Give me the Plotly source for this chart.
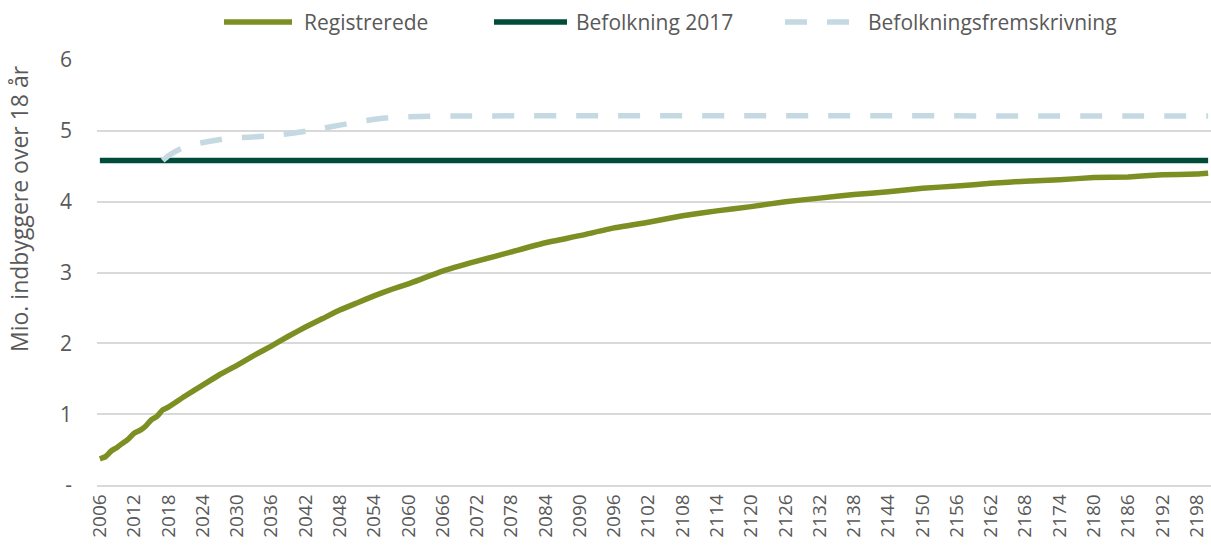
import plotly.graph_objects as go

# Registrerede (mio.)
reg_years = [2006, 2007, 2008, 2009, 2010, 2011, 2012, 2013, 2014, 2015, 2016, 2017, 2018,
             2021, 2024, 2027, 2030, 2033, 2036, 2039, 2042, 2045, 2048, 2051, 2054, 2057,
             2060, 2066, 2072, 2078, 2084, 2090, 2096, 2102, 2108, 2114, 2120, 2126, 2132,
             2138, 2144, 2150, 2156, 2162, 2168, 2174, 2180, 2186, 2192, 2198, 2200]
reg_values = [0.37, 0.40, 0.48, 0.53, 0.59, 0.65, 0.73, 0.77, 0.83, 0.92, 0.97, 1.06, 1.10,
              1.26, 1.41, 1.56, 1.69, 1.83, 1.96, 2.10, 2.23, 2.35, 2.47, 2.57, 2.67, 2.76,
              2.84, 3.02, 3.16, 3.29, 3.42, 3.52, 3.63, 3.71, 3.80, 3.87, 3.93, 4.00, 4.05,
              4.10, 4.14, 4.19, 4.22, 4.26, 4.29, 4.31, 4.34, 4.35, 4.38, 4.39, 4.40]

# Befolkning 2017 (constant)
bef_years = [2006, 2200]
bef_values = [4.58, 4.58]

# Befolkningsfremskrivning
proj_years = [2017, 2018, 2020, 2022, 2025, 2028, 2032, 2036, 2040, 2044, 2048, 2052, 2056,
              2060, 2070, 2200]
proj_values = [4.58, 4.65, 4.74, 4.80, 4.85, 4.89, 4.91, 4.93, 4.97, 5.02, 5.08, 5.14, 5.18,
               5.20, 5.21, 5.21]

series_names = ["Registrerede", "Befolkning 2017", "Befolkningsfremskrivning"]
series_colors = ["#7B8F22", "#004B3A", "#C5D9E2"]

x_ticks = list(range(2006, 2199, 6))
y_ticks = [0, 1, 2, 3, 4, 5, 6]
y_ticktext = ["-", "1", "2", "3", "4", "5", "6"]
y_title = "Mio. indbyggere over 18 år"

FONT = "Open Sans"
GRAY = "#595959"
DASH = "22px,20px"
LW = 5.5

fig = go.Figure()
fig.add_trace(go.Scatter(x=reg_years, y=reg_values, mode="lines", name=series_names[0],
                         line=dict(color=series_colors[0], width=LW, shape="spline", smoothing=0.4)))
fig.add_trace(go.Scatter(x=bef_years, y=bef_values, mode="lines", name=series_names[1],
                         line=dict(color=series_colors[1], width=LW)))
fig.add_trace(go.Scatter(x=proj_years, y=proj_values, mode="lines", name=series_names[2],
                         line=dict(color=series_colors[2], width=LW, dash=DASH, shape="spline",
                                   smoothing=0.4)))

# custom legend (layout positions in paper coordinates)
PLOT_L, PLOT_W = 97, 1114
def px(v):
    return (v - PLOT_L) / PLOT_W

legend_y = 1.0894
legend_items = [(224, 292, 302), (494, 567, 574), (785, 852, 866)]
shapes = []
annotations = []
for i, (x0, x1, xt) in enumerate(legend_items):
    shapes.append(dict(type="line", xref="paper", yref="paper", x0=px(x0), x1=px(x1),
                       y0=legend_y, y1=legend_y,
                       line=dict(color=series_colors[i], width=LW, dash=DASH if i == 2 else "solid")))
    annotations.append(dict(text=series_names[i], xref="paper", yref="paper", x=px(xt), y=legend_y,
                            xanchor="left", yanchor="middle", showarrow=False,
                            font=dict(family=FONT, size=21, color=GRAY)))

annotations.append(dict(text=y_title, xref="paper", yref="paper", x=px(19), y=(485 - 209) / 425,
                        xanchor="center", yanchor="middle", textangle=-90, showarrow=False,
                        font=dict(family=FONT, size=23, color=GRAY)))

fig.update_layout(
    width=1211, height=549,
    margin=dict(l=97, r=0, t=60, b=64),
    paper_bgcolor="white", plot_bgcolor="white",
    font=dict(family=FONT, size=18, color=GRAY),
    showlegend=False,
    shapes=shapes,
    annotations=annotations,
    xaxis=dict(range=[2005.5, 2200.5], tickmode="array", tickvals=x_ticks, tickangle=-90,
               showgrid=False, showline=True, linecolor="#D9D9D9", linewidth=1.5,
               ticks="", zeroline=False, tickfont=dict(size=19, color=GRAY)),
    yaxis=dict(range=[0, 6], tickmode="array", tickvals=y_ticks, ticktext=y_ticktext,
               showgrid=True, gridcolor="#D9D9D9", gridwidth=1.5, zeroline=False,
               showline=False, ticks="", ticklabelstandoff=24,
               tickfont=dict(size=21, color=GRAY)),
)

fig.write_html("out.html")
